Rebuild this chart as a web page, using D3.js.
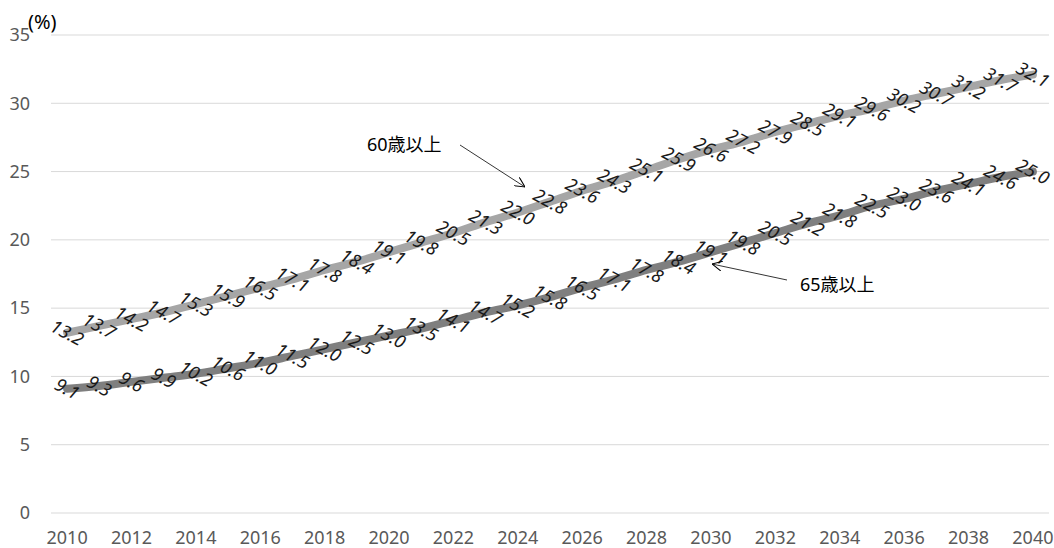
<!DOCTYPE html>
<html>
<head>
<meta charset="utf-8">
<script src="https://cdn.jsdelivr.net/npm/d3@7"></script>
<style>
  html, body { margin: 0; padding: 0; background: #fff; overflow: hidden; }
  svg { display: block; font-family: "Noto Sans", "Noto Sans CJK JP", sans-serif; }
</style>
</head>
<body>
<div id="chart"></div>
<script>
// ---- data ----
const years = d3.range(2010, 2041);
const over60 = [13.2, 13.7, 14.2, 14.7, 15.3, 15.9, 16.5, 17.1, 17.8, 18.4, 19.1, 19.8, 20.5, 21.3, 22.0, 22.8,
  23.6, 24.3, 25.1, 25.9, 26.6, 27.2, 27.9, 28.5, 29.1, 29.6, 30.2, 30.7, 31.2, 31.7, 32.1];
const over65 = [9.1, 9.3, 9.6, 9.9, 10.2, 10.6, 11.0, 11.5, 12.0, 12.5, 13.0, 13.5, 14.1, 14.7, 15.2, 15.8,
  16.5, 17.1, 17.8, 18.4, 19.1, 19.8, 20.5, 21.2, 21.8, 22.5, 23.0, 23.6, 24.1, 24.6, 25.0];
const yTicks = [0, 5, 10, 15, 20, 25, 30, 35];
const xTickYears = years.filter(y => (y - 2010) % 2 === 0);

const series = [
  { name: "60歳以上", values: over60, color: "#a6a6a6" },
  { name: "65歳以上", values: over65, color: "#7f7f7f" }
];

// ---- setup ----
const width = 1054, height = 548;
const svg = d3.select("#chart").append("svg")
  .attr("width", width)
  .attr("height", height);

const x = d3.scaleBand().domain(years).range([51, 1049]).padding(0);
const y = d3.scaleLinear().domain([0, 35]).range([513, 35]);
const cx = yr => x(yr) + x.bandwidth() / 2;

// gridlines
svg.append("g")
  .selectAll("line")
  .data(yTicks)
  .join("line")
  .attr("x1", 51).attr("x2", 1049)
  .attr("y1", d => y(d)).attr("y2", d => y(d))
  .attr("stroke", "#d9d9d9")
  .attr("stroke-width", 1);

// y labels
svg.append("g")
  .selectAll("text")
  .data(yTicks)
  .join("text")
  .attr("x", 30)
  .attr("y", d => y(d))
  .attr("dy", "0.35em")
  .attr("text-anchor", "end")
  .attr("fill", "#595959")
  .attr("font-size", 18)
  .text(d => d);

svg.append("text")
  .attr("x", 28).attr("y", 29)
  .attr("font-size", 20)
  .attr("fill", "#000")
  .text("(%)");

// x labels
svg.append("g")
  .selectAll("text")
  .data(xTickYears)
  .join("text")
  .attr("x", d => cx(d))
  .attr("y", 544)
  .attr("text-anchor", "middle")
  .attr("fill", "#595959")
  .attr("font-size", 18)
  .text(d => d);

// lines
const line = d3.line()
  .x((d, i) => cx(years[i]))
  .y(d => y(d))
  .curve(d3.curveMonotoneX);

svg.append("g")
  .selectAll("path")
  .data(series)
  .join("path")
  .attr("d", d => line(d.values))
  .attr("fill", "none")
  .attr("stroke", d => d.color)
  .attr("stroke-width", 8)
  .attr("stroke-linecap", "round");

// data labels (italic, rotated, centred on points)
series.forEach(s => {
  svg.append("g")
    .selectAll("text")
    .data(s.values)
    .join("text")
    .attr("transform", (d, i) => `translate(${cx(years[i])},${y(d)}) rotate(28)`)
    .attr("text-anchor", "middle")
    .attr("dy", "0.35em")
    .attr("font-size", 18)
    .attr("font-style", "italic")
    .attr("fill", "#1a1a1a")
    .text(d => d.toFixed(1));
});

// annotations
svg.append("defs").append("marker")
  .attr("id", "arr")
  .attr("viewBox", "0 0 10 10")
  .attr("refX", 10).attr("refY", 5)
  .attr("markerWidth", 10).attr("markerHeight", 10)
  .attr("markerUnits", "userSpaceOnUse")
  .attr("orient", "auto")
  .append("path")
  .attr("d", "M0,0 L10,5 L0,10")
  .attr("fill", "none")
  .attr("stroke", "#000")
  .attr("stroke-width", 1);

const notes = [
  { label: series[0].name, tx: 367, ty: 145, from: [460, 145], to: [525, 187] },
  { label: series[1].name, tx: 800, ty: 285, from: [787, 280], to: [712, 264] }
];

notes.forEach(n => {
  svg.append("line")
    .attr("x1", n.from[0]).attr("y1", n.from[1])
    .attr("x2", n.to[0]).attr("y2", n.to[1])
    .attr("stroke", "#000")
    .attr("stroke-width", 0.8)
    .attr("marker-end", "url(#arr)");
  svg.append("text")
    .attr("x", n.tx).attr("y", n.ty)
    .attr("dy", "0.35em")
    .attr("font-size", 18)
    .attr("fill", "#000")
    .text(n.label);
});
</script>
</body>
</html>
